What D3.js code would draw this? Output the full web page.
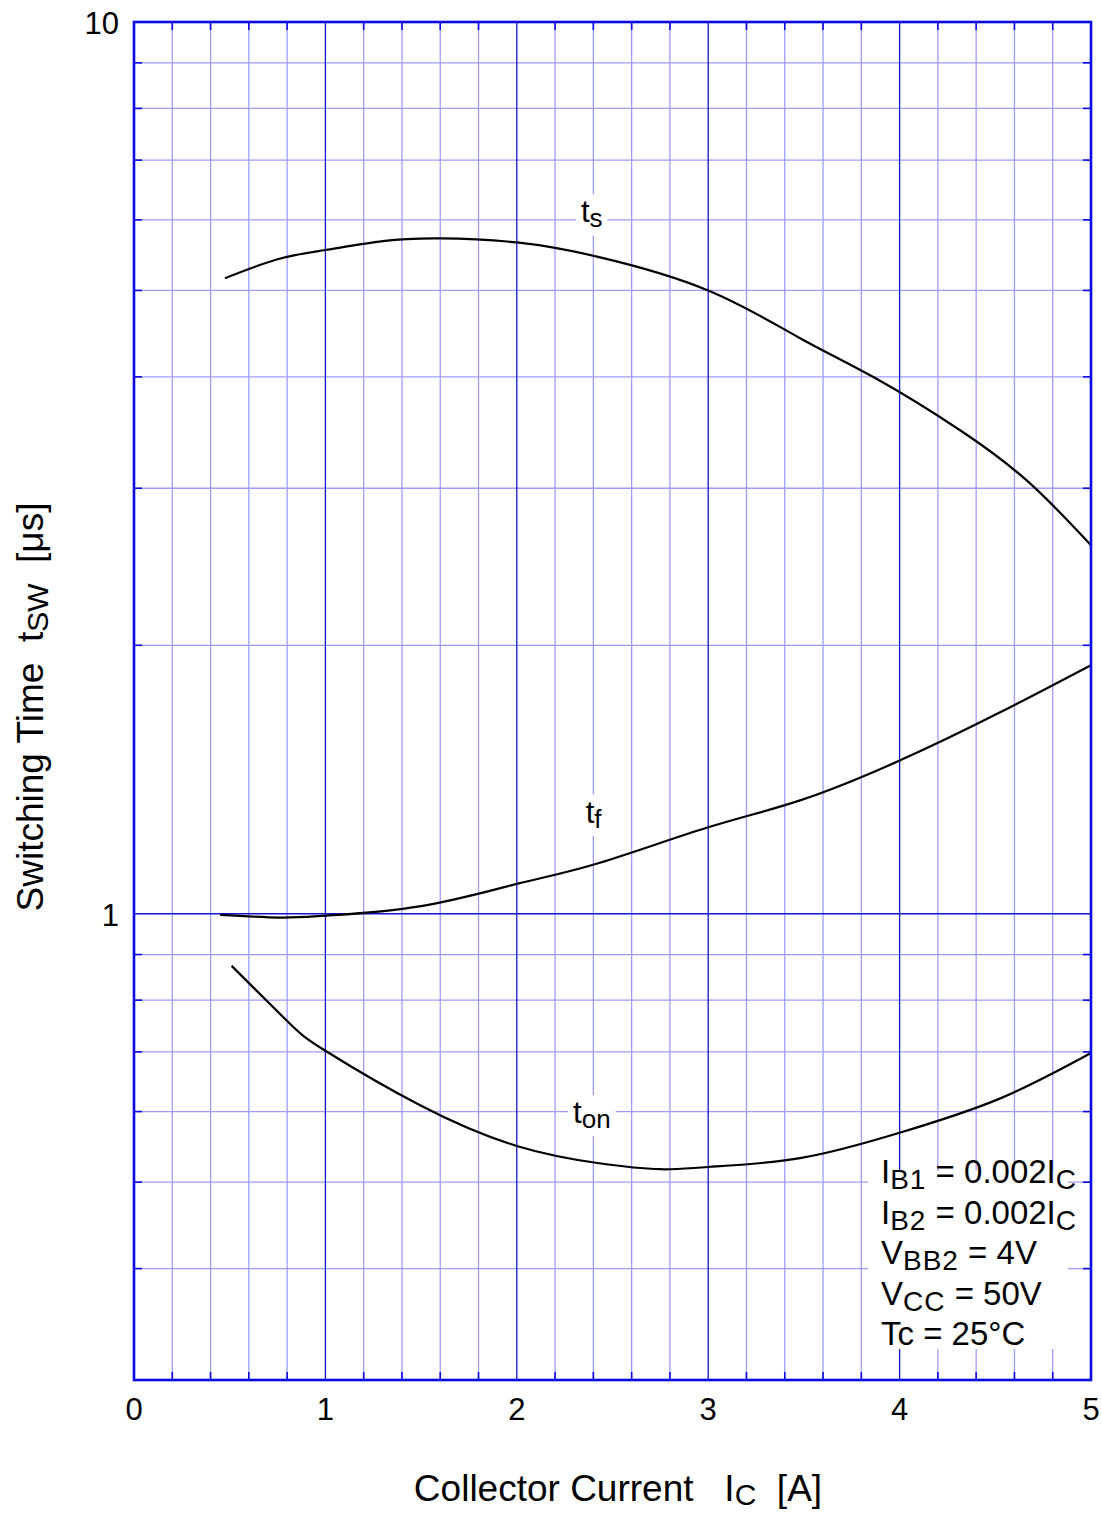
<!DOCTYPE html>
<html>
<head>
<meta charset="utf-8">
<script src="https://cdn.jsdelivr.net/npm/d3@7"></script>
<style>
  body { margin: 0; background: #fff; }
  svg text { font-family: "Liberation Sans", Arial, sans-serif; fill: #000; }
</style>
</head>
<body>
<div id="chart"></div>
<script>
"use strict"

// ---- data ----
const xTicks = [0, 1, 2, 3, 4, 5];
const yTicks = [1, 10];
const yMinor = [0.4, 0.5, 0.6, 0.7, 0.8, 0.9, 2, 3, 4, 5, 6, 7, 8, 9];

const tsIc  = [0.475, 0.75, 1.0, 1.3, 1.6, 2.0, 2.43, 3.0, 3.48, 3.87, 4.32, 4.68, 5.0];
const tsVal = [5.16, 5.42, 5.55, 5.68, 5.72, 5.66, 5.45, 5.0, 4.42, 3.99, 3.48, 3.04, 2.59];

const tfIc  = [0.45, 0.76, 1.0, 1.5, 2.0, 2.43, 3.0, 3.48, 4.0, 4.52, 5.0];
const tfVal = [0.997, 0.99, 0.995, 1.02, 1.08, 1.14, 1.25, 1.34, 1.485, 1.68, 1.90];

const tonIc  = [0.51, 0.8, 1.0, 1.5, 2.0, 2.43, 2.75, 3.0, 3.48, 4.0, 4.52, 5.0];
const tonVal = [0.874, 0.758, 0.702, 0.609, 0.549, 0.525, 0.517, 0.520, 0.532, 0.568, 0.620, 0.698];

// curve labels: text, subscript, anchor position in data units
const curveLabels = [
    {main: "t", sub: "s",  ic: 2.335, v: 5.96},
    {main: "t", sub: "f",  ic: 2.36,  v: 1.265},
    {main: "t", sub: "on", ic: 2.294, v: 0.582}
];

const conditions = [
    [["I", ""], ["B1", "sub"], [" = 0.002I", ""], ["C", "sub"]],
    [["I", ""], ["B2", "sub"], [" = 0.002I", ""], ["C", "sub"]],
    [["V", ""], ["BB2", "sub"], [" = 4V", ""]],
    [["V", ""], ["CC", "sub"], [" = 50V", ""]],
    [["Tc = 25°C", ""]]
];

//------------------------ layout ------------------------//
const W = 1102, H = 1513;
const pLeft = 134, pRight = 1091, pTop = 22, pBottom = 1380;
const frameColor = "#0808e6";
const minorColor = "#9c9cff";
const majorColor = "#1414d0";

const svg = d3.select("#chart").append("svg")
    .attr("width", W).attr("height", H);

const x = d3.scaleLinear().domain([0, 5]).range([pLeft, pRight]);
const y = d3.scaleLog().domain([0.3, 10]).range([pBottom, pTop]);

//------------------------ grid --------------------------//
const xMinor = d3.range(0, 5.001, 0.2).filter(v => Math.abs(v - Math.round(v)) > 1e-6);
const grid = svg.append("g");

grid.selectAll("line.vminor").data(xMinor).join("line")
    .attr("x1", d => x(d)).attr("x2", d => x(d))
    .attr("y1", pTop).attr("y2", pBottom)
    .attr("stroke", minorColor).attr("stroke-width", 1.3);

grid.selectAll("line.hminor").data(yMinor).join("line")
    .attr("x1", pLeft).attr("x2", pRight)
    .attr("y1", d => y(d)).attr("y2", d => y(d))
    .attr("stroke", minorColor).attr("stroke-width", 1.3);

grid.selectAll("line.vmajor").data(xTicks.slice(1, -1)).join("line")
    .attr("x1", d => x(d)).attr("x2", d => x(d))
    .attr("y1", pTop).attr("y2", pBottom)
    .attr("stroke", majorColor).attr("stroke-width", 1.3);

grid.selectAll("line.hmajor").data([1]).join("line")
    .attr("x1", pLeft).attr("x2", pRight)
    .attr("y1", d => y(d)).attr("y2", d => y(d))
    .attr("stroke", majorColor).attr("stroke-width", 1.3);

//------------------------ curves ------------------------//
const line = d3.line()
    .x(d => x(d[0])).y(d => y(d[1]))
    .curve(d3.curveNatural);

const series = [
    d3.zip(tsIc, tsVal),
    d3.zip(tfIc, tfVal),
    d3.zip(tonIc, tonVal)
];
svg.append("g").selectAll("path").data(series).join("path")
    .attr("d", line)
    .attr("fill", "none")
    .attr("stroke", "#000")
    .attr("stroke-width", 2.2);

//------------------------ curve labels ------------------//
curveLabels.forEach(l => {
    const g = svg.append("g").attr("transform", `translate(${x(l.ic)},${y(l.v)})`);
    const t = g.append("text").attr("font-size", 31);
    t.append("tspan").text(l.main);
    t.append("tspan").attr("font-size", 26).attr("dy", 5).attr("dx", 0).text(l.sub);
    const bb = t.node().getBBox();
    g.insert("rect", "text")
        .attr("x", bb.x - 5).attr("y", bb.y)
        .attr("width", bb.width + 10).attr("height", bb.height + 2)
        .attr("fill", "#fff");
});

//------------------------ conditions box ----------------//
const legend = svg.append("g");
legend.append("rect")
    .attr("x", 868).attr("y", y(0.515))
    .attr("width", 200).attr("height", y(0.325) - y(0.515))
    .attr("fill", "#fff");
conditions.forEach((row, i) => {
    const t = legend.append("text")
        .attr("x", 881).attr("y", 1183 + i * 40.5)
        .attr("font-size", 33);
    let shifted = false;
    row.forEach(([s, kind]) => {
        if (kind === "sub") {
            t.append("tspan").attr("font-size", 28).attr("dy", 6)
                .attr("letter-spacing", 1).text(s);
            shifted = true;
        } else {
            t.append("tspan").attr("dy", shifted ? -6 : 0).text(s);
            shifted = false;
        }
    });
});

//------------------------ frame + ticks -----------------//
const tickLen = 8;
const frame = svg.append("g").attr("stroke", frameColor);
// inward ticks at every minor grid position on all four edges
frame.selectAll("line.tb").data(xMinor).join("line")
    .attr("x1", d => x(d)).attr("x2", d => x(d))
    .attr("y1", pTop).attr("y2", pTop + tickLen).attr("stroke-width", 1.6);
frame.selectAll("line.bb").data(xMinor).join("line")
    .attr("x1", d => x(d)).attr("x2", d => x(d))
    .attr("y1", pBottom).attr("y2", pBottom - tickLen).attr("stroke-width", 1.6);
frame.selectAll("line.lt").data(yMinor).join("line")
    .attr("x1", pLeft).attr("x2", pLeft + tickLen)
    .attr("y1", d => y(d)).attr("y2", d => y(d)).attr("stroke-width", 1.6);
frame.selectAll("line.rt").data(yMinor).join("line")
    .attr("x1", pRight).attr("x2", pRight - tickLen)
    .attr("y1", d => y(d)).attr("y2", d => y(d)).attr("stroke-width", 1.6);

frame.append("rect")
    .attr("x", pLeft).attr("y", pTop)
    .attr("width", pRight - pLeft).attr("height", pBottom - pTop)
    .attr("fill", "none").attr("stroke-width", 2.6);

//------------------------ tick labels -------------------//
svg.append("g").selectAll("text").data(xTicks).join("text")
    .attr("x", d => x(d)).attr("y", 1420)
    .attr("text-anchor", "middle").attr("font-size", 31)
    .text(d => d);

svg.append("g").selectAll("text").data(yTicks).join("text")
    .attr("x", 119).attr("y", d => y(d) + 12)
    .attr("text-anchor", "end").attr("font-size", 31)
    .text(d => d);

//------------------------ axis titles -------------------//
const xt = svg.append("text")
    .attr("x", 618).attr("y", 1501)
    .attr("text-anchor", "middle").attr("font-size", 37)
    .attr("xml:space", "preserve");
xt.append("tspan").text("Collector Current   I");
xt.append("tspan").attr("font-size", 30).attr("dy", 4).text("C");
xt.append("tspan").attr("dy", -4).text("  [A]");

const yt = svg.append("text")
    .attr("transform", `translate(43,707) rotate(-90)`)
    .attr("text-anchor", "middle").attr("font-size", 37)
    .attr("xml:space", "preserve");
yt.append("tspan").text("Switching Time  t");
yt.append("tspan").attr("font-size", 30).attr("dy", 5).text("SW");
yt.append("tspan").attr("dy", -5).text("  [μs]");
</script>
</body>
</html>
